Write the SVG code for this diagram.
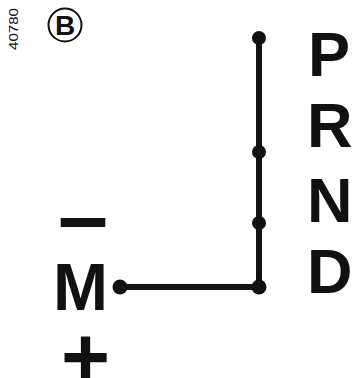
<svg xmlns="http://www.w3.org/2000/svg" width="353" height="378" viewBox="0 0 353 378">
<style>
.lbl{font-family:"Liberation Sans",Arial,sans-serif;font-weight:bold;fill:#111}
.dot{fill:#111}
.ln{stroke:#111;stroke-width:6;fill:none;stroke-linecap:butt}
</style>
<rect width="353" height="378" fill="#fff"/>
<g id="ref">
<text class="lbl" style="font-weight:normal;font-size:12px" transform="translate(18,50) rotate(-90)" textLength="42" lengthAdjust="spacingAndGlyphs">40780</text>
<circle cx="65" cy="25" r="16.5" fill="none" stroke="#111" stroke-width="2"/>
<text class="lbl" x="65" y="35" font-size="28" text-anchor="middle">B</text>
</g>
<g id="connectors">
<path class="ln" d="M259,39 V287 H120"/>
</g>
<g id="P"><circle class="dot" cx="259" cy="38" r="7"/><text class="lbl" x="308" y="76" font-size="63">P</text></g>
<g id="R"><circle class="dot" cx="259" cy="152" r="7"/><text class="lbl" x="307" y="147" font-size="63">R</text></g>
<g id="N"><circle class="dot" cx="259" cy="223" r="7"/><text class="lbl" x="307" y="222" font-size="63">N</text></g>
<g id="D"><circle class="dot" cx="259" cy="287" r="7.5"/><text class="lbl" x="307" y="293" font-size="63">D</text></g>
<g id="M"><circle class="dot" cx="120" cy="287" r="7.5"/><text class="lbl" x="53" y="310" font-size="66">M</text></g>
<g id="minus"><text class="lbl" x="58" y="247" font-size="90">–</text></g>
<g id="plus"><text class="lbl" x="61" y="386" font-size="84">+</text></g>
</svg>
